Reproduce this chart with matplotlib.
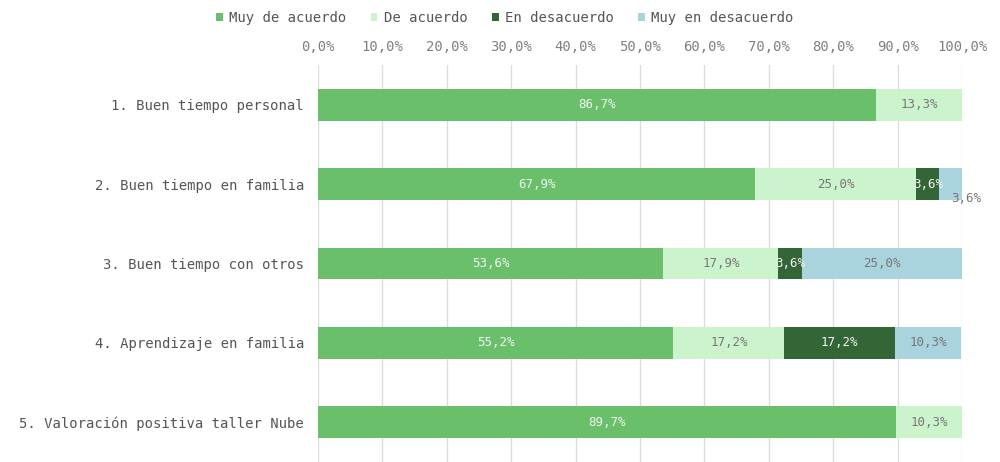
import numpy as np
import matplotlib
matplotlib.use("Agg")
import matplotlib.pyplot as plt

categories = [
    "1. Buen tiempo personal",
    "2. Buen tiempo en familia",
    "3. Buen tiempo con otros",
    "4. Aprendizaje en familia",
    "5. Valoración positiva taller Nube",
]
series_names = ["Muy de acuerdo", "De acuerdo", "En desacuerdo", "Muy en desacuerdo"]
muy_de_acuerdo = [86.7, 67.9, 53.6, 55.2, 89.7]
de_acuerdo = [13.3, 25.0, 17.9, 17.2, 10.3]
en_desacuerdo = [0.0, 3.6, 3.6, 17.2, 0.0]
muy_en_desacuerdo = [0.0, 3.6, 25.0, 10.3, 0.0]

colors = ["#69bf6a", "#cbf4cd", "#346537", "#a9d3dd"]
label_colors = ["#f4f4f4", "#777777", "#f4f4f4", "#777777"]

plt.rcParams["font.family"] = ["DejaVu Sans Mono"]

fig = plt.figure(figsize=(10, 4.62), dpi=100)
ax = fig.add_axes([0.318, 0.0, 0.644, 0.859])

y = np.arange(len(categories))
left = np.zeros(len(categories))
all_series = [muy_de_acuerdo, de_acuerdo, en_desacuerdo, muy_en_desacuerdo]
for name, vals, col, lcol in zip(series_names, all_series, colors, label_colors):
    vals = np.array(vals)
    ax.barh(y, vals, left=left, height=0.4, color=col, label=name, zorder=2)
    for i, v in enumerate(vals):
        if v <= 0:
            continue
        cx = left[i] + v / 2
        cy = y[i]
        # small last segment: label pushed outside, just below the right edge
        if name == "Muy en desacuerdo" and v < 5:
            cx = left[i] + v + 0.6
            cy = y[i] + 0.18
        ax.text(cx, cy, f"{v:.1f}%".replace(".", ","), ha="center", va="center",
                fontsize=9, color=lcol, zorder=3)
    left += vals

ax.set_xlim(0, 100)
ax.set_ylim(4.5, -0.5)
ax.set_yticks(y)
ax.set_yticklabels(categories, fontsize=10, color="#555555")
ax.set_xticks(np.arange(0, 101, 10))
ax.set_xticklabels([f"{t:.1f}%".replace(".", ",") for t in np.arange(0, 101, 10)],
                   fontsize=10, color="#808080")
ax.xaxis.tick_top()
ax.tick_params(axis="both", length=0, pad=10)
ax.tick_params(axis="x", pad=8)
for s in ax.spines.values():
    s.set_visible(False)
ax.grid(True, axis="x", color="#dddddd", linewidth=1, zorder=0)
ax.set_axisbelow(True)

ax.legend(loc="upper center", bbox_to_anchor=(0.29, 1.167), ncol=4, frameon=False,
          fontsize=10, handlelength=0.5, handleheight=0.5, handletextpad=0.45,
          columnspacing=1.75, labelcolor="#555555")

fig.savefig("out.png", dpi=100)
